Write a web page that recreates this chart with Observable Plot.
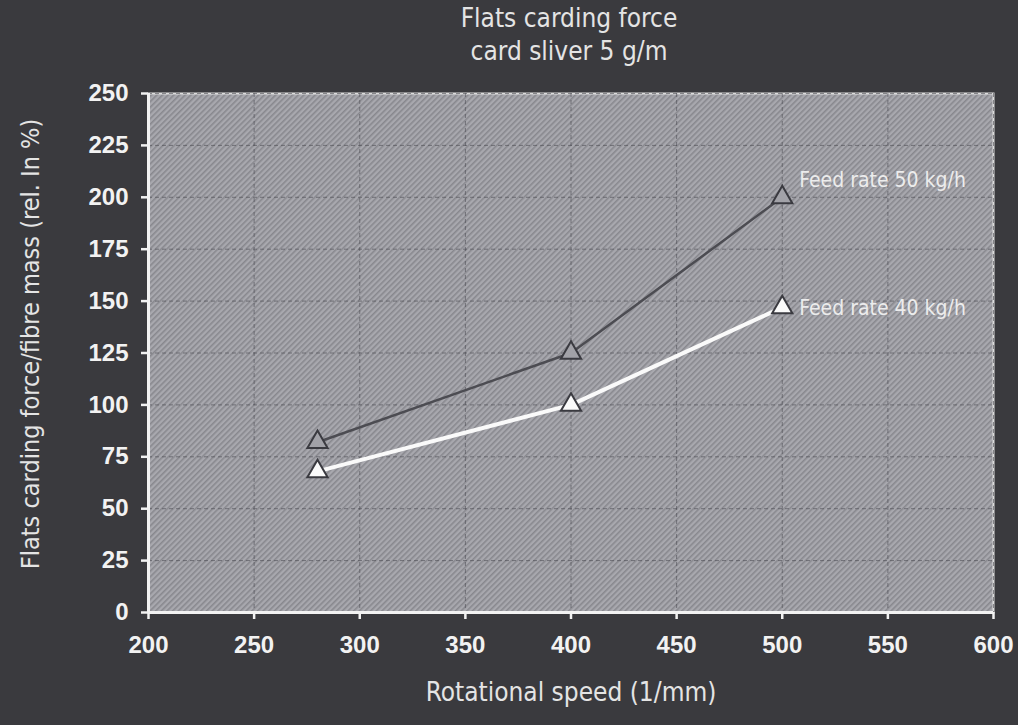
<!DOCTYPE html>
<html>
<head>
<meta charset="utf-8">
<script src="https://cdn.jsdelivr.net/npm/d3@7"></script>
<script src="https://cdn.jsdelivr.net/npm/@observablehq/plot@0.6"></script>
<style>
  html, body { margin: 0; padding: 0; background: #3a3a3e; }
  #wrap { width: 1018px; height: 725px; background: #3a3a3e; position: relative; overflow: hidden; }
  #title { height: 80px; width: 1018px; box-sizing: border-box; padding-left: 120px; text-align: center;
    font-family: "Liberation Sans Narrow", "DejaVu Sans Condensed", "Roboto", sans-serif;
    color: #e4e4e4; font-size: 26px; line-height: 33px; padding-top: 2px; }
  svg { display: block; overflow: visible; }
</style>
</head>
<body>
<div id="wrap">
  <div id="title">Flats carding force<br>card sliver 5 g/m</div>
  <div id="chart"></div>
</div>
<script>
const speeds = [280, 400, 500];
const feed50 = [82, 125, 200];
const feed40 = [68, 100, 147];
const seriesNames = ["Feed rate 50 kg/h", "Feed rate 40 kg/h"];
const xTicks = [200, 250, 300, 350, 400, 450, 500, 550, 600];
const yTicks = [0, 25, 50, 75, 100, 125, 150, 175, 200, 225, 250];
const xLabel = "Rotational speed (1/mm)";
const yLabel = "Flats carding force/fibre mass (rel. In %)";

const s50 = speeds.map((x, i) => ({x, y: feed50[i]}));
const s40 = speeds.map((x, i) => ({x, y: feed40[i]}));
const lastIdx = speeds.length - 1;

const narrow = '"Liberation Sans Narrow", "DejaVu Sans Condensed", Roboto, sans-serif';
const white = "#f2f2f2";

const chart = Plot.plot({
  width: 1018,
  height: 645,
  marginTop: 13,
  marginBottom: 113,
  marginLeft: 148,
  marginRight: 25,
  style: {background: "transparent", fontFamily: '"Liberation Sans", Arial, sans-serif', overflow: "visible"},
  x: {domain: [200, 600]},
  y: {domain: [0, 250]},
  marks: [
    Plot.frame({fill: "url(#hatch)", stroke: "#dcdcdc", strokeWidth: 2}),
    Plot.gridX(xTicks, {stroke: "#4a4a50", strokeOpacity: 0.6, strokeDasharray: "4,3", strokeWidth: 1}),
    Plot.gridY(yTicks, {stroke: "#4a4a50", strokeOpacity: 0.6, strokeDasharray: "4,3", strokeWidth: 1}),
    Plot.axisX(xTicks, {color: white, tickSize: 7, tickPadding: 16, fontSize: 24, fontWeight: "bold", strokeWidth: 2.5, label: null}),
    Plot.axisY(yTicks, {color: white, tickSize: 7, tickPadding: 13, fontSize: 24, fontWeight: "bold", strokeWidth: 2.5, label: null}),
    Plot.ruleY([0], {stroke: white, strokeWidth: 3}),
    Plot.ruleX([200], {stroke: white, strokeWidth: 3}),
    Plot.line(s50, {x: "x", y: "y", stroke: "#4c4c52", strokeWidth: 2.5}),
    Plot.line(s40, {x: "x", y: "y", stroke: "#fafafa", strokeWidth: 4}),
    Plot.dot(s50, {x: "x", y: "y", symbol: "triangle", r: 7.5, fill: "#a2a2a8", stroke: "#3a3a40", strokeWidth: 2}),
    Plot.dot(s40, {x: "x", y: "y", symbol: "triangle", r: 7.5, fill: "#fafafa", stroke: "#3a3a40", strokeWidth: 2}),
    Plot.text([s50[lastIdx]], {x: "x", y: "y", text: () => seriesNames[0], textAnchor: "start", dx: 17, dy: -17, fill: "#ececec", fontSize: 21, fontFamily: narrow}),
    Plot.text([s40[lastIdx]], {x: "x", y: "y", text: () => seriesNames[1], textAnchor: "start", dx: 17, dy: 1, fill: "#ececec", fontSize: 21, fontFamily: narrow}),
    Plot.text([xLabel], {frameAnchor: "bottom", dy: 88, fill: "#e4e4e4", fontSize: 26, fontFamily: narrow}),
    Plot.text([yLabel], {frameAnchor: "left", textAnchor: "middle", rotate: -90, dx: -118, dy: -9, fill: "#e4e4e4", fontSize: 25, fontFamily: narrow})
  ]
});

const ns = "http://www.w3.org/2000/svg";
const defs = document.createElementNS(ns, "defs");
const pat = document.createElementNS(ns, "pattern");
pat.setAttribute("id", "hatch");
pat.setAttribute("patternUnits", "userSpaceOnUse");
pat.setAttribute("width", "4");
pat.setAttribute("height", "4");
pat.setAttribute("patternTransform", "rotate(45)");
const bg = document.createElementNS(ns, "rect");
bg.setAttribute("width", "4"); bg.setAttribute("height", "4"); bg.setAttribute("fill", "#a8a8ae");
const ln = document.createElementNS(ns, "rect");
ln.setAttribute("width", "1.6"); ln.setAttribute("height", "4"); ln.setAttribute("fill", "#88888e");
pat.appendChild(bg); pat.appendChild(ln);
defs.appendChild(pat);
chart.insertBefore(defs, chart.firstChild);
document.getElementById("chart").appendChild(chart);
</script>
</body>
</html>
